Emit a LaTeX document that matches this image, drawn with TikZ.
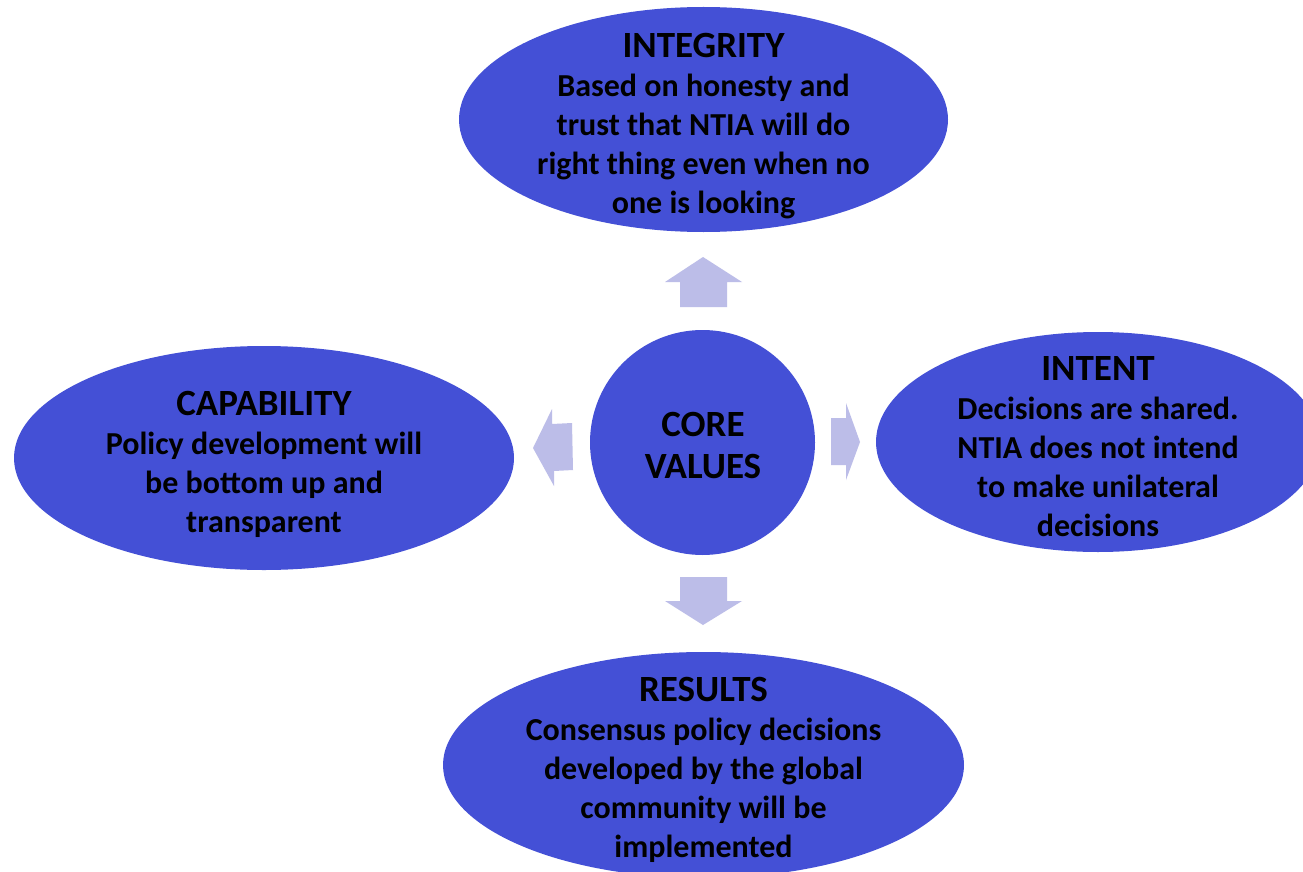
\documentclass[tikz,border=0pt]{standalone}
\usepackage{fontspec}
\setmainfont{Carlito}
\usetikzlibrary{shapes.geometric}
\definecolor{ellblue}{RGB}{68,80,214}
\definecolor{arrblue}{RGB}{188,189,232}
\tikzset{
  oval/.style={ellipse, fill=ellblue, draw=none, inner sep=0pt},
  ovaltext/.style={align=center, inner sep=0pt,
    font=\bfseries\fontsize{32}{39}\selectfont, text=black},
  hub/.style={circle, fill=ellblue, draw=none, inner sep=0pt},
  hubtext/.style={align=center, inner sep=0pt,
    font=\bfseries\fontsize{37}{42}\selectfont, text=black},
  blockarrow/.style={fill=arrblue, draw=none}
}
\newcommand{\ttl}[1]{{\fontsize{37}{39}\selectfont #1}}
\begin{document}
\begin{tikzpicture}[x=1pt,y=-1pt]
\clip (0,0) rectangle (1303,872);
\fill[white] (0,0) rectangle (1303,872);
\node[oval, minimum width=489pt, minimum height=225pt] (integrity) at (703.5,119.5) {};
\node[ovaltext] (integrityT) at (703.5,126)
  {\ttl{INTEGRITY}\\Based on honesty and\\trust that NTIA will do\\right thing even when no\\one is looking};
\node[oval, minimum width=500pt, minimum height=224pt] (capability) at (264,458) {};
\node[ovaltext] (capabilityT) at (264,464)
  {\ttl{CAPABILITY}\\Policy development will\\be bottom up and\\transparent};
\node[oval, minimum width=444pt, minimum height=220pt] (intent) at (1098,442) {};
\node[ovaltext] (intentT) at (1098,447)
  {\ttl{INTENT}\\Decisions are shared.\\NTIA does not intend\\to make unilateral\\decisions};
\node[oval, minimum width=521pt, minimum height=226pt] (results) at (703.5,765) {};
\node[ovaltext] (resultsT) at (703.5,770)
  {\ttl{RESULTS}\\Consensus policy decisions\\developed by the global\\community will be\\implemented};
\node[hub, minimum size=225pt] (core) at (702.5,442.5) {};
\node[hubtext] (coreT) at (703,445) {CORE\\VALUES};
% block arrows
\fill[blockarrow] (680,307) -- (680,282) -- (665,282) -- (703,257) -- (742,282) -- (727,282) -- (727,307) -- cycle;
\fill[blockarrow] (680,577) -- (727,577) -- (727,601) -- (742,601) -- (703,625) -- (665,601) -- (680,601) -- cycle;
\fill[blockarrow] (573,470) -- (554,471) -- (554,486) -- (533,448) -- (552,409) -- (552,424) -- (572,423) -- cycle;
\fill[blockarrow] (831,418) -- (846,418) -- (846,403) -- (860,442) -- (846,480) -- (846,465) -- (831,465) -- cycle;
\end{tikzpicture}
\end{document}
